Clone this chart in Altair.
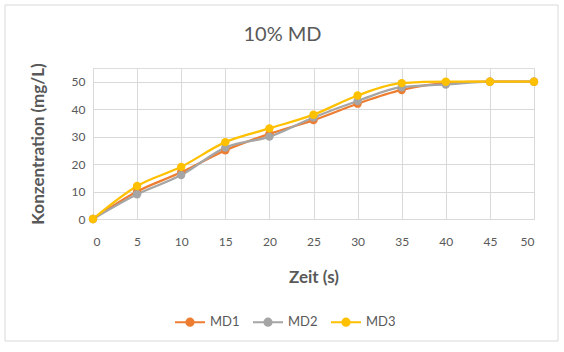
import altair as alt
import pandas as pd

zeit = [0, 5, 10, 15, 20, 25, 30, 35, 40, 45, 50]
md1 = [0, 10, 17, 25, 31, 36, 42, 47, 49.5, 50, 50]
md2 = [0, 9, 16, 26, 30, 37, 43, 48, 49, 50, 50]
md3 = [0, 12, 19, 28, 33, 38, 45, 49.5, 50, 50, 50]
series = ["MD1", "MD2", "MD3"]
colors = ["#ED7D31", "#A5A5A5", "#FFC000"]

rows = []
for name, vals in zip(series, [md1, md2, md3]):
    for t, v in zip(zeit, vals):
        rows.append({"Zeit": t, "Wert": v, "Serie": name})
df = pd.DataFrame(rows)

FONT = "Lato"
GRAY = "#595959"

color = alt.Color(
    "Serie:N",
    scale=alt.Scale(domain=series, range=colors),
    legend=alt.Legend(
        title=None,
        orient="none",
        legendX=81,
        legendY=238,
        direction="horizontal",
        symbolType="M-1,0L1,0M-0.24,0A0.24,0.24 0 1,1 0.24,0A0.24,0.24 0 1,1 -0.24,0Z",
        symbolSize=900,
        symbolStrokeWidth=2,
        labelFont=FONT,
        labelFontSize=13,
        labelColor=GRAY,
        labelOffset=4,
        columnPadding=9,
    ),
)

x = alt.X(
    "Zeit:Q",
    scale=alt.Scale(domain=[0, 50], nice=False),
    axis=alt.Axis(
        values=zeit,
        title="Zeit (s)",
        titleFont=FONT,
        titleFontSize=17,
        titleFontWeight="bold",
        titleColor=GRAY,
        titlePadding=22,
        labelFont=FONT,
        labelFontSize=12,
        labelColor=GRAY,
        labelPadding=17,
        ticks=False,
        domainColor="#D9D9D9",
        gridColor="#D9D9D9",
    ),
)
y = alt.Y(
    "Wert:Q",
    scale=alt.Scale(domain=[0, 55], nice=False),
    axis=alt.Axis(
        values=[0, 10, 20, 30, 40, 50],
        title="Konzentration (mg/L)",
        titleFont=FONT,
        titleFontSize=17,
        titleFontWeight="bold",
        titleColor=GRAY,
        titlePadding=24,
        labelFont=FONT,
        labelFontSize=12,
        labelColor=GRAY,
        labelPadding=8,
        ticks=False,
        domain=False,
        gridColor="#D9D9D9",
    ),
)

lines = alt.Chart(df).mark_line(interpolate="monotone", strokeWidth=2.25).encode(
    x=x, y=y, color=color
)
points = alt.Chart(df).mark_point(filled=True, size=70, opacity=1).encode(
    x=x, y=y, fill=color, color=color
)

border = alt.Chart(pd.DataFrame({"a": [0]})).mark_rect(
    fill=None, stroke="#D9D9D9", strokeWidth=1, clip=False
).encode(
    x=alt.value(-88), x2=alt.value(465), y=alt.value(-63), y2=alt.value(273)
)

chart = alt.layer(border, lines, points).properties(
    width=441,
    height=151,
    padding={"left": 93, "top": 68, "right": 30, "bottom": 133},
    autosize=alt.AutoSizeParams(type="none"),
    title=alt.TitleParams(
        "10% MD",
        font=FONT,
        fontSize=20,
        fontWeight="normal",
        color=GRAY,
        anchor="middle",
        dx=-31,
        offset=-40,
    ),
).configure_view(stroke=None).configure(background="white")

chart.save("out.html", embed_options={"renderer": "svg", "actions": False})
